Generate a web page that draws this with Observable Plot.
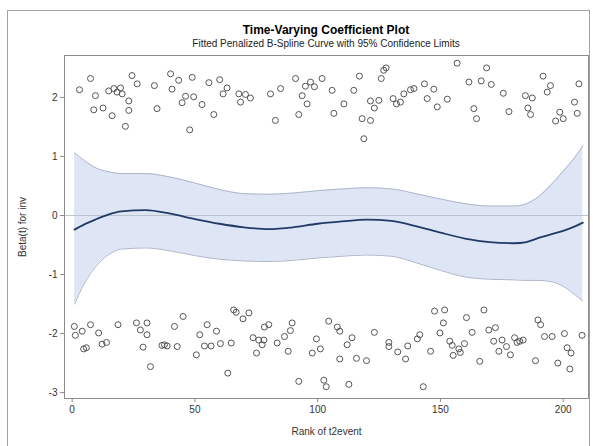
<!DOCTYPE html>
<html>
<head>
<meta charset="utf-8">
<script src="https://cdn.jsdelivr.net/npm/d3@7"></script>
<script src="https://cdn.jsdelivr.net/npm/@observablehq/plot@0.6"></script>
<style>
  html, body { margin: 0; padding: 0; background: #fff; }
  #wrap { position: relative; width: 593px; height: 446px; overflow: hidden; font-family: "Liberation Sans", Arial, sans-serif; }
  #border { position: absolute; left: 7px; top: 10px; width: 583px; height: 445px; border: 1px solid #a0a0a0; box-sizing: border-box; }
  #title { position: absolute; left: 64px; width: 524px; top: 23px; text-align: center; font-size: 12px; font-weight: bold; color: #000; }
  #subtitle { position: absolute; left: 64px; width: 524px; top: 38px; text-align: center; font-size: 10px; color: #222; }
  #chart { position: absolute; left: 0; top: 50px; }
</style>
</head>
<body>
<div id="wrap">
  <div id="border"></div>
  <div id="title">Time-Varying Coefficient Plot</div>
  <div id="subtitle">Fitted Penalized B-Spline Curve with 95% Confidence Limits</div>
  <div id="chart"></div>
</div>
<script>
// Fitted curve and 95% confidence limits
const curveRank  = [1, 5, 10, 15, 20, 30, 40, 50, 60, 70, 80, 90, 100, 110, 120, 130, 140, 150, 160, 170, 180, 185, 190, 195, 200, 205, 208];
const curveFit   = [-0.24, -0.15, -0.06, 0.02, 0.07, 0.09, 0.03, -0.06, -0.14, -0.20, -0.23, -0.20, -0.14, -0.10, -0.07, -0.09, -0.18, -0.29, -0.39, -0.45, -0.47, -0.45, -0.38, -0.32, -0.26, -0.18, -0.12];
const curveUpper = [1.06, 0.93, 0.80, 0.74, 0.71, 0.71, 0.65, 0.55, 0.44, 0.37, 0.36, 0.38, 0.42, 0.45, 0.47, 0.45, 0.37, 0.28, 0.20, 0.16, 0.16, 0.20, 0.32, 0.52, 0.75, 1.00, 1.18];
const curveLower = [-1.50, -1.15, -0.85, -0.66, -0.57, -0.55, -0.60, -0.68, -0.74, -0.77, -0.78, -0.76, -0.72, -0.69, -0.67, -0.69, -0.80, -0.93, -1.04, -1.08, -1.09, -1.10, -1.10, -1.12, -1.20, -1.35, -1.45];

// Residual points (upper group)
const upperRank = [7.5, 3.0, 9.5, 8.8, 12.6, 16.3, 14.9, 17.0, 19.7, 18.3, 20.4, 23.1, 23.1, 21.7, 24.4, 26.5, 33.5, 34.6, 40.1, 43.4, 40.7, 48.9, 46.2, 49.5, 44.8, 52.9, 47.9, 55.7, 60.1, 63.1, 61.5, 57.7, 67.9, 70.6, 72.6, 68.6, 80.8, 84.9, 82.8, 91.0, 93.7, 95.7, 92.3, 97.1, 95.0, 98.7,
  101.8, 105.9, 106.6, 110.7, 114.7, 117.0, 118.1, 121.5, 118.8, 121.5, 124.9, 123.1, 126.9, 127.9, 125.9, 130.7, 132.1, 133.7, 135.1, 137.8, 139.2, 143.5, 144.6, 147.3, 148.7, 152.8, 156.8, 161.6, 163.6, 164.7, 166.6, 168.8, 170.7, 175.6, 177.9, 184.6, 187.4, 185.6, 186.7, 191.8, 194.8, 193.5, 196.9, 198.6, 200.0, 204.6, 205.7, 206.4];
const upperValue = [2.32, 2.13, 2.03, 1.79, 1.82, 1.69, 2.11, 2.15, 2.16, 2.09, 2.06, 1.94, 1.78, 1.51, 2.37, 2.23, 2.20, 1.81, 2.40, 2.29, 2.14, 2.34, 2.02, 2.01, 1.91, 1.88, 1.45, 2.25, 2.30, 2.16, 2.06, 1.71, 2.06, 2.05, 1.99, 1.92, 2.06, 2.15, 1.61, 2.32, 2.03, 1.89, 1.71, 2.26, 2.19, 2.18,
  2.32, 2.12, 1.73, 1.89, 2.12, 2.36, 1.64, 1.61, 1.30, 1.94, 1.95, 1.82, 2.46, 2.50, 2.32, 1.98, 1.89, 1.92, 2.06, 2.13, 2.15, 2.23, 1.98, 2.14, 1.84, 1.97, 2.58, 2.26, 1.81, 1.64, 2.28, 2.50, 2.22, 2.07, 1.76, 2.03, 1.99, 1.82, 1.71, 2.36, 2.20, 2.09, 1.60, 1.75, 1.64, 1.92, 1.73, 2.23];

// Residual points (lower group)
const lowerRank = [0.9, 1.3, 4.1, 7.5, 10.8, 4.7, 5.8, 12.2, 14.0, 18.7, 26.2, 27.8, 30.5, 30.5, 28.9, 31.9, 36.6, 37.6, 38.7, 42.8, 41.7, 45.2, 50.6, 52.0, 55.0, 53.9, 56.6, 58.8, 60.4, 63.4, 64.8, 65.8, 66.8, 69.6, 72.0, 73.7, 75.1, 76.0, 77.4, 78.1, 78.3, 80.1, 83.5, 86.5, 88.0, 88.9, 89.6, 92.3, 97.8, 99.5, 101.1, 102.5, 103.5, 104.5,
  108.0, 109.0, 114.0, 112.0, 109.0, 115.8, 119.9, 112.7, 123.1, 129.0, 129.0, 132.6, 135.8, 136.7, 140.6, 141.6, 143.0, 146.0, 147.6, 151.7, 151.2, 149.8, 153.8, 154.8, 155.2, 157.5, 158.1, 159.8, 160.6, 162.9, 166.0, 167.7, 169.7, 172.4, 171.7, 173.8, 175.1, 176.9, 178.5, 180.2, 181.2, 182.3, 183.7, 188.7, 189.7, 190.8, 192.4, 195.5, 197.8, 200.5, 201.6, 203.2, 202.7, 207.7];
const lowerValue = [-1.88, -2.03, -1.96, -1.85, -1.99, -2.26, -2.24, -2.18, -2.15, -1.85, -1.82, -1.94, -1.82, -2.02, -2.23, -2.56, -2.20, -2.19, -2.21, -2.22, -1.88, -1.71, -2.36, -2.02, -1.85, -2.21, -2.21, -1.96, -2.17, -2.67, -2.16, -1.60, -1.64, -1.75, -1.65, -2.07, -2.33, -2.11, -2.19, -2.11, -1.89, -1.85, -2.16, -2.05, -2.30, -1.95, -1.82, -2.81, -2.33, -2.09, -2.26, -2.79, -2.90, -1.79,
  -1.89, -1.96, -2.07, -2.19, -2.43, -2.42, -2.46, -2.86, -1.98, -2.15, -2.22, -2.31, -2.43, -2.21, -2.09, -2.02, -2.90, -2.30, -1.62, -1.60, -1.82, -1.99, -2.13, -2.20, -2.37, -2.26, -2.32, -2.17, -1.73, -1.98, -2.47, -1.60, -1.94, -1.90, -2.13, -2.30, -2.11, -2.22, -2.36, -2.07, -2.15, -2.13, -2.11, -2.46, -1.77, -1.85, -2.05, -2.05, -2.50, -2.00, -2.24, -2.33, -2.60, -2.03];

const xTicks = [0, 50, 100, 150, 200];
const yTicks = [-3, -2, -1, 0, 1, 2];

const curve = curveRank.map((r, i) => ({rank: r, fit: curveFit[i], upper: curveUpper[i], lower: curveLower[i]}));
const points = upperRank.map((r, i) => ({rank: r, beta: upperValue[i]}))
  .concat(lowerRank.map((r, i) => ({rank: r, beta: lowerValue[i]})));

const plainNum = d => String(d);

const chart = Plot.plot({
  width: 593,
  height: 396,
  marginLeft: 64,
  marginRight: 5,
  marginTop: 5,
  marginBottom: 48,
  style: {fontFamily: "'Liberation Sans', Arial, sans-serif", fontSize: "10px", color: "#333", background: "transparent"},
  x: {domain: [-3.1, 210.3]},
  y: {domain: [-3.1, 2.71]},
  marks: [
    Plot.areaY(curve, {x: "rank", y1: "lower", y2: "upper", fill: "#dee6f5", curve: "monotone-x"}),
    Plot.lineY(curve, {x: "rank", y: "upper", stroke: "#adb6c8", strokeWidth: 1, curve: "monotone-x"}),
    Plot.lineY(curve, {x: "rank", y: "lower", stroke: "#adb6c8", strokeWidth: 1, curve: "monotone-x"}),
    Plot.ruleY([0], {stroke: "#bcc3d0", strokeWidth: 1}),
    Plot.lineY(curve, {x: "rank", y: "fit", stroke: "#233a66", strokeWidth: 1.8, curve: "monotone-x"}),
    Plot.dot(points, {x: "rank", y: "beta", r: 3, stroke: "#555", strokeWidth: 1, fill: "none"}),
    Plot.frame({stroke: "#8c8c8c"}),
    Plot.axisX({ticks: xTicks, tickFormat: plainNum, tickSize: 4, stroke: "#8c8c8c", tickPadding: 3, label: "Rank of t2event", labelAnchor: "center", labelOffset: 36, labelArrow: "none"}),
    Plot.axisY({ticks: yTicks, tickFormat: plainNum, tickSize: 4, stroke: "#8c8c8c", tickPadding: 3, label: "Beta(t) for inv", labelAnchor: "center", labelOffset: 46, labelArrow: "none"})
  ]
});
document.getElementById("chart").appendChild(chart);
</script>
</body>
</html>
